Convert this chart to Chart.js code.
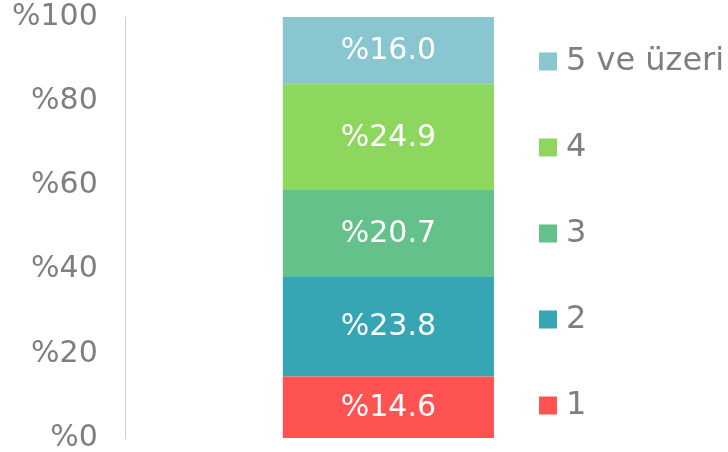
<!DOCTYPE html>
<html>
<head>
<meta charset="utf-8">
<script src="https://cdn.jsdelivr.net/npm/chart.js@4"></script>
<style>
  html, body { margin: 0; padding: 0; background: #fff; }
  #wrap { width: 728px; height: 452px; }
</style>
</head>
<body>
<div id="wrap"><canvas id="barchart" width="728" height="452"></canvas></div>
<script>
const categories = [""];
const seriesNames = ["1", "2", "3", "4", "5 ve üzeri"];
const seriesValues = [[14.6], [23.8], [20.7], [24.9], [16.0]];
const seriesColors = ["#FF5252", "#36A6B5", "#63C189", "#8ED75F", "#8AC6CF"];
const yTicks = [0, 20, 40, 60, 80, 100];

const FONT = "'DejaVu Sans', Verdana, sans-serif";
const GREY = "#7f7f7f";

// white value text in the middle of each segment
const segmentLabels = {
    id: "segmentLabels",
    afterDatasetsDraw(chart) {
        const ctx = chart.ctx;
        ctx.save();
        ctx.font = "30px " + FONT;
        ctx.fillStyle = "#ffffff";
        ctx.textAlign = "center";
        ctx.textBaseline = "middle";
        chart.data.datasets.forEach((ds, i) => {
            chart.getDatasetMeta(i).data.forEach((bar, j) => {
                const p = bar.getProps(["x", "y", "base"], true);
                ctx.fillText("%" + ds.data[j].toFixed(1), p.x, (p.y + p.base) / 2 + 1);
            });
        });
        ctx.restore();
    }
};

// legend on the right, top item is the last series
const sideLegend = {
    id: "sideLegend",
    afterDraw(chart) {
        const ctx = chart.ctx;
        const area = chart.chartArea;
        const n = chart.data.datasets.length;
        const step = 86;
        const mid = (area.top + area.bottom) / 2 + 6;
        ctx.save();
        ctx.font = "32px " + FONT;
        ctx.textBaseline = "middle";
        ctx.textAlign = "left";
        for (let k = 0; k < n; k++) {
            const ds = chart.data.datasets[n - 1 - k];
            const y = mid + (k - (n - 1) / 2) * step;
            ctx.fillStyle = ds.backgroundColor;
            ctx.fillRect(539, y - 9, 18, 18);
            ctx.fillStyle = GREY;
            ctx.fillText(ds.label, 566, y);
        }
        ctx.restore();
    }
};

const CHART = document.getElementById("barchart");

let barchart = new Chart(CHART, {
    type: 'bar',
    data: {
        labels: categories,
        datasets: seriesNames.map((name, i) => ({
            label: name,
            data: seriesValues[i],
            backgroundColor: seriesColors[i],
            borderWidth: 0,
            barPercentage: 1,
            categoryPercentage: 0.402
        }))
    },
    options: {
        responsive: false,
        animation: false,
        layout: { padding: { left: -16, right: 77, top: 0, bottom: 0 } },
        plugins: {
            legend: { display: false },
            tooltip: { enabled: false }
        },
        scales: {
            x: {
                stacked: true,
                display: false
            },
            y: {
                stacked: true,
                min: 0,
                max: 100,
                afterBuildTicks(axis) {
                    axis.ticks = yTicks.map(v => ({ value: v }));
                },
                afterFit(axis) {
                    axis.paddingTop = 17;
                    axis.paddingBottom = 14;
                },
                grid: { display: false, drawTicks: false },
                border: { display: true, color: "#cccccc", width: 1 },
                ticks: {
                    padding: 28,
                    color: GREY,
                    font: { family: FONT, size: 30 },
                    callback: v => "%" + v
                }
            }
        }
    },
    plugins: [segmentLabels, sideLegend]
});
</script>
</body>
</html>
